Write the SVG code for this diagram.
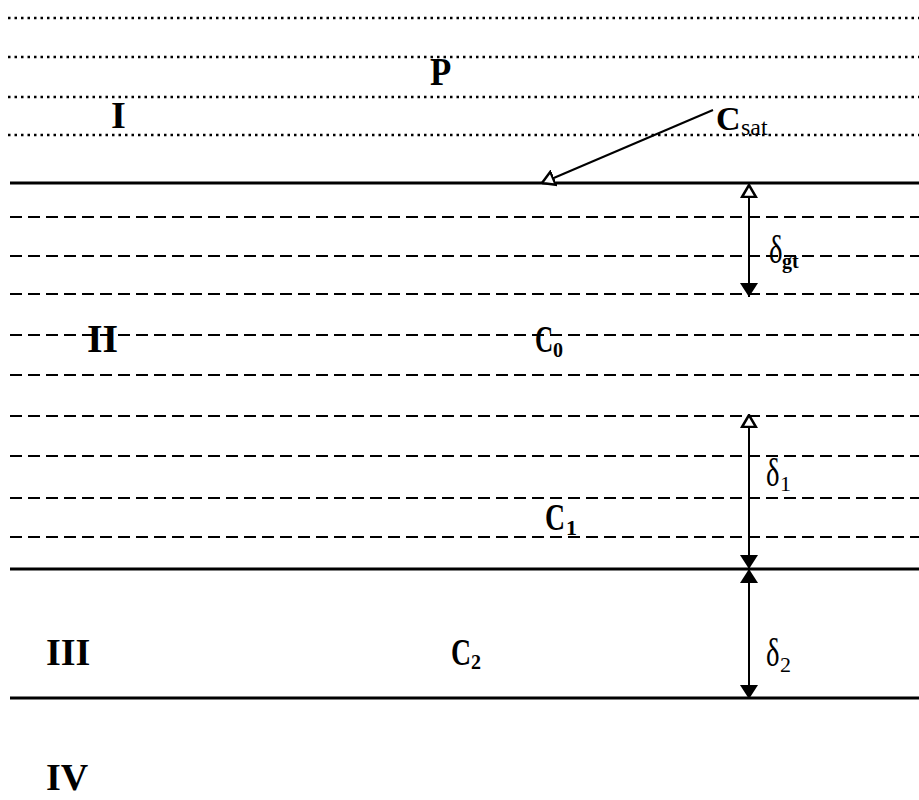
<svg xmlns="http://www.w3.org/2000/svg" width="919" height="800" viewBox="0 0 919 800">
<style>
.dot{stroke:#000;stroke-width:2.5;stroke-dasharray:2.5 4;fill:none}
.dash{stroke:#000;stroke-width:2.2;stroke-dasharray:12 6;fill:none}
.sol{stroke:#000;stroke-width:2.8;fill:none}
.arr{stroke:#000;stroke-width:2;fill:none}
text{font-family:"Liberation Serif","Times New Roman",serif;fill:#000}
.b{font-weight:bold;font-size:38px}
.sb{font-weight:bold;font-size:20px}
.sr{font-size:22px}
.d{font-size:40px}
</style>
<defs>
<marker id="open" viewBox="-1 -1 14 18" refX="12" refY="8" markerWidth="14" markerHeight="18" orient="auto" markerUnits="userSpaceOnUse">
<path d="M0,1 L12,8 L0,15 Z" fill="#fff" stroke="#000" stroke-width="2.5"/>
</marker>
<marker id="fill" viewBox="0 0 14 18" refX="14" refY="9" markerWidth="14" markerHeight="18" orient="auto" markerUnits="userSpaceOnUse">
<path d="M0,0 L14,9 L0,18 Z" fill="#000"/>
</marker>
</defs>
<g id="layers">
<line class="dot" x1="8" y1="18" x2="919" y2="18"/>
<line class="dot" x1="8" y1="57" x2="919" y2="57"/>
<line class="dot" x1="8" y1="97" x2="919" y2="97"/>
<line class="dot" x1="8" y1="135" x2="919" y2="135"/>
<line class="sol" x1="10" y1="183" x2="919" y2="183"/>
<line class="dash" x1="10" y1="217" x2="919" y2="217"/>
<line class="dash" x1="10" y1="256" x2="919" y2="256"/>
<line class="dash" x1="10" y1="294" x2="919" y2="294"/>
<line class="dash" x1="10" y1="335" x2="919" y2="335"/>
<line class="dash" x1="10" y1="375" x2="919" y2="375"/>
<line class="dash" x1="10" y1="416" x2="919" y2="416"/>
<line class="dash" x1="10" y1="456" x2="919" y2="456"/>
<line class="dash" x1="10" y1="498" x2="919" y2="498"/>
<line class="dash" x1="10" y1="537" x2="919" y2="537"/>
<line class="sol" x1="10" y1="569" x2="919" y2="569"/>
<line class="sol" x1="10" y1="698" x2="919" y2="698"/>
</g>
<g id="connectors">
<line class="arr" x1="713" y1="110" x2="542" y2="183" marker-end="url(#open)"/>
<line class="arr" x1="749" y1="294" x2="749" y2="185" marker-end="url(#open)"/>
<line class="arr" x1="749" y1="200" x2="749" y2="297" marker-end="url(#fill)"/>
<line class="arr" x1="749" y1="569" x2="749" y2="415" marker-end="url(#open)"/>
<line class="arr" x1="749" y1="440" x2="749" y2="569" marker-end="url(#fill)"/>
<line class="arr" x1="749" y1="690" x2="749" y2="569" marker-end="url(#fill)"/>
<line class="arr" x1="749" y1="590" x2="749" y2="699" marker-end="url(#fill)"/>
</g>
<g id="label-P"><text class="b" transform="translate(430,85) scale(0.87,1)" style="font-size:40px">P</text></g>
<g id="label-I"><text class="b" x="111" y="128">I</text></g>
<g id="label-Csat"><text class="b" x="716" y="130" style="font-size:34px">C</text><text class="sr" x="741" y="135" style="font-size:24px">sat</text></g>
<g id="label-dgt"><text class="d" transform="translate(769,263) scale(0.72,1)">δ</text><text class="sb" x="782" y="268">gt</text></g>
<g id="label-II"><text class="b" x="87" y="352" style="font-size:40px">II</text></g>
<g id="label-C0"><text class="b" transform="translate(535,352) scale(0.68,1)" style="font-size:37px">C</text><text class="sb" x="553" y="357">0</text></g>
<g id="label-d1"><text class="d" transform="translate(766,486) scale(0.72,1)">δ</text><text class="sr" x="780" y="491">1</text></g>
<g id="label-C1"><text class="b" transform="translate(545,530) scale(0.75,1)" style="font-size:37px">C</text><text class="sr" x="566" y="535" style="font-weight:bold">1</text></g>
<g id="label-III"><text class="b" x="46" y="665">III</text></g>
<g id="label-C2"><text class="b" transform="translate(451,665) scale(0.75,1)" style="font-size:37px">C</text><text class="sb" x="471" y="669">2</text></g>
<g id="label-d2"><text class="d" transform="translate(766,666) scale(0.72,1)">δ</text><text class="sr" x="780" y="672">2</text></g>
<g id="label-IV"><text class="b" x="46" y="790">IV</text></g>
</svg>
